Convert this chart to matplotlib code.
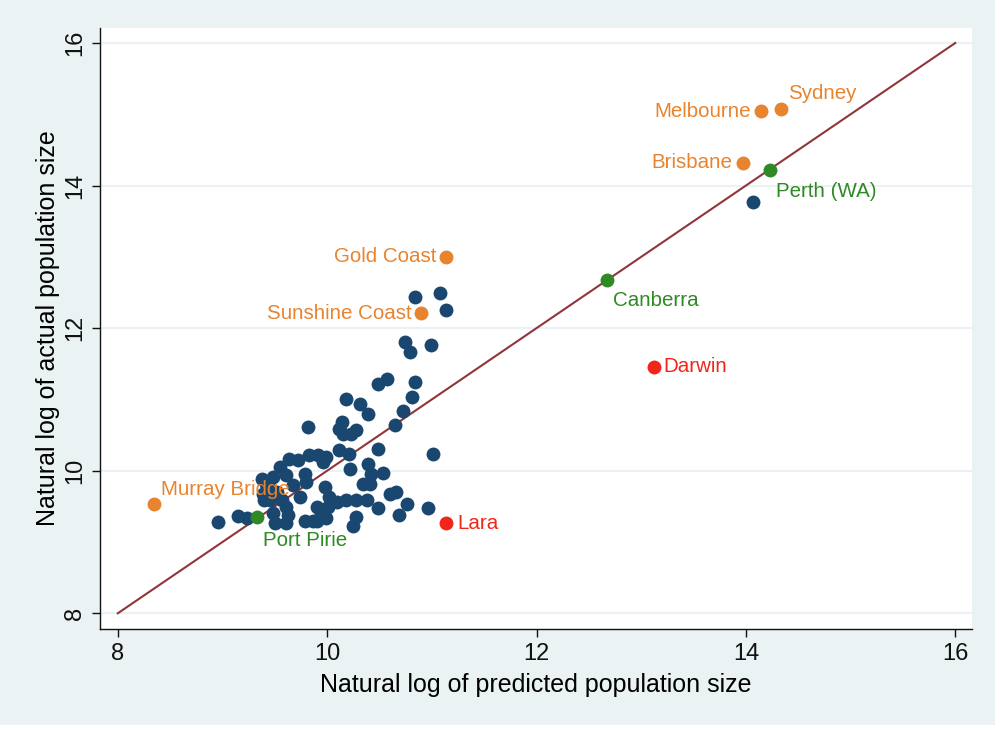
import numpy as np
import matplotlib
matplotlib.use("Agg")
import matplotlib.pyplot as plt
from matplotlib.patches import Rectangle

plt.rcParams["font.family"] = ["Liberation Sans", "DejaVu Sans"]

# === Dati: log popolazione prevista vs reale ===
altri_x = [14.07, 10.84, 11.08, 11.14, 10.74, 10.79, 10.99, 10.49, 10.57, 10.84,
           10.81, 10.72, 10.65, 10.18, 10.31, 10.39, 9.82, 10.14, 10.11, 10.15,
           10.28, 10.23, 11.01, 10.49, 10.21, 10.11, 9.64, 9.72, 9.83, 9.91,
           9.99, 9.55, 9.79, 9.96, 10.22, 10.39, 10.42, 10.53, 10.41, 9.48,
           9.61, 9.42, 9.39, 9.67, 9.80, 9.74, 9.98, 10.02, 10.01, 9.90,
           10.09, 10.18, 10.28, 10.38, 10.34, 10.60, 10.66, 10.76, 10.69, 10.96,
           10.49, 10.28, 10.25, 9.99, 9.90, 9.79, 9.63, 9.61, 9.48, 9.50,
           9.61, 8.96, 9.15, 9.23, 9.40, 9.45, 9.86, 9.94, 9.38, 9.45,
           9.57, 9.43, 9.52]
altri_y = [13.77, 12.44, 12.49, 12.26, 11.81, 11.67, 11.77, 11.22, 11.29, 11.25,
           11.03, 10.84, 10.64, 11.01, 10.93, 10.80, 10.62, 10.69, 10.59, 10.52,
           10.57, 10.51, 10.23, 10.30, 10.24, 10.29, 10.17, 10.15, 10.22, 10.22,
           10.19, 10.05, 9.96, 10.12, 10.03, 10.10, 9.96, 9.97, 9.82, 9.91,
           9.94, 9.82, 9.68, 9.80, 9.84, 9.63, 9.77, 9.63, 9.49, 9.49,
           9.56, 9.59, 9.59, 9.59, 9.82, 9.68, 9.70, 9.54, 9.38, 9.48,
           9.48, 9.35, 9.23, 9.33, 9.30, 9.30, 9.38, 9.49, 9.40, 9.26,
           9.26, 9.28, 9.37, 9.33, 9.59, 9.75, 9.30, 9.40, 9.89, 9.59,
           9.59, 9.75, 9.70]

# sopra la retta
sopra_nomi = ["Sydney", "Melbourne", "Brisbane", "Gold Coast", "Sunshine Coast", "Murray Bridge"]
sopra_x = [14.34, 14.14, 13.97, 11.14, 10.90, 8.35]
sopra_y = [15.07, 15.04, 14.32, 13.00, 12.21, 9.54]

# sulla retta
sulla_nomi = ["Perth (WA)", "Canberra", "Port Pirie"]
sulla_x = [14.23, 12.67, 9.33]
sulla_y = [14.22, 12.68, 9.35]

# sotto la retta
sotto_nomi = ["Darwin", "Lara"]
sotto_x = [13.12, 11.14]
sotto_y = [11.46, 9.26]

# === Stile ===
BG = "#eaf2f3"
NAVY = "#1a476f"
ARANCIO = "#e8832e"
VERDE = "#2f8a26"
ROSSO = "#f0261a"
MARRONE = "#90353b"

# offset etichette in pixel (dx, dy, allineamento)
offset = {
    "Sydney": (7, 16, "left"),
    "Melbourne": (-10, 0, "right"),
    "Brisbane": (-10, 0, "right"),
    "Gold Coast": (-10, 0, "right"),
    "Sunshine Coast": (-10, 0, "right"),
    "Murray Bridge": (7, 14, "left"),
    "Perth (WA)": (6, -22, "left"),
    "Canberra": (6, -21, "left"),
    "Port Pirie": (6, -23, "left"),
    "Darwin": (10, 0, "left"),
    "Lara": (11, 0, "left"),
}

fig = plt.figure(figsize=(10, 7.3), dpi=100, facecolor="white")
fig.patches.append(Rectangle((0, 0.007), 0.995, 0.993, transform=fig.transFigure,
                             facecolor=BG, edgecolor="none", zorder=-10))
ax = fig.add_axes([0.100, 0.1384, 0.872, 0.8232])
ax.set_facecolor("white")

ax.plot([8, 16], [8, 16], color=MARRONE, lw=1.5, zorder=2)

ms = 100
ax.scatter(altri_x, altri_y, s=ms, color=NAVY, zorder=3, linewidths=0)
ax.scatter(sopra_x, sopra_y, s=ms, color=ARANCIO, zorder=4, linewidths=0)
ax.scatter(sulla_x, sulla_y, s=ms, color=VERDE, zorder=4, linewidths=0)
ax.scatter(sotto_x, sotto_y, s=ms, color=ROSSO, zorder=4, linewidths=0)

for nomi, xs, ys, col in [(sopra_nomi, sopra_x, sopra_y, ARANCIO),
                          (sulla_nomi, sulla_x, sulla_y, VERDE),
                          (sotto_nomi, sotto_x, sotto_y, ROSSO)]:
    for n, x, y in zip(nomi, xs, ys):
        dx, dy, ha = offset[n]
        ax.annotate(n, (x, y), xytext=(dx * 0.72, dy * 0.72), textcoords="offset points",
                    ha=ha, va="center", color=col, fontsize=14.8, zorder=5)

ax.set_xlim(7.83, 16.16)
ax.set_ylim(7.78, 16.21)
ticks = [8, 10, 12, 14, 16]
ax.set_xticks(ticks)
ax.set_yticks(ticks)
ax.set_yticklabels([str(t) for t in ticks], rotation=90, va="center")
ax.grid(axis="y", color=BG, lw=1.5)
ax.set_axisbelow(True)
for s in ["top", "right"]:
    ax.spines[s].set_visible(False)
for s in ["left", "bottom"]:
    ax.spines[s].set_color("#111111")
    ax.spines[s].set_linewidth(1.0)
ax.tick_params(direction="out", length=6, width=1, labelsize=17, colors="#111111", pad=4)
ax.set_xlabel("Natural log of predicted population size", fontsize=18, labelpad=6)
ax.set_ylabel("Natural log of actual population size", fontsize=18, labelpad=3)

plt.savefig("out.png", dpi=100, facecolor=fig.get_facecolor())
